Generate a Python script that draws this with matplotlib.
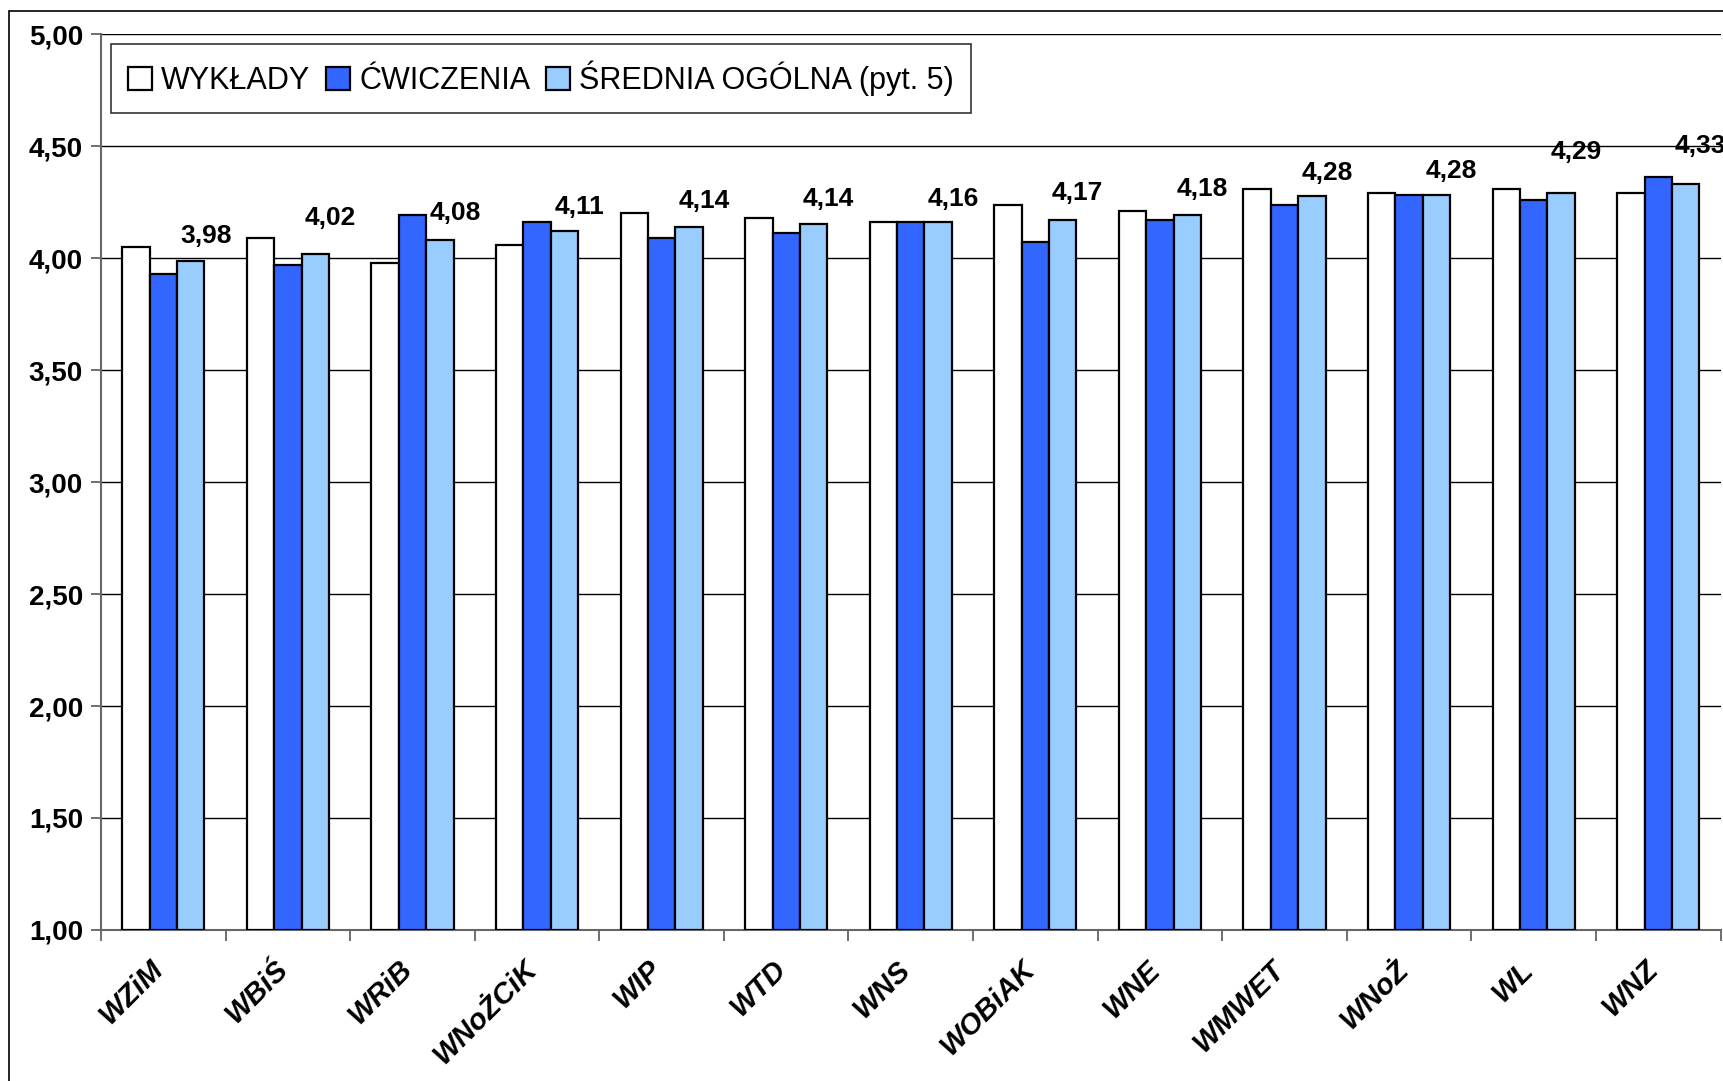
import matplotlib
matplotlib.use("Agg")
import matplotlib.pyplot as plt
import matplotlib.transforms as mtransforms
import numpy as np
from matplotlib.patches import Rectangle
from matplotlib.ticker import FuncFormatter, MultipleLocator

categories = ["WZiM", "WBiŚ", "WRiB", "WNoŻCiK", "WIP", "WTD", "WNS",
              "WOBiAK", "WNE", "WMWET", "WNoŻ", "WL", "WNZ"]
wyklady = [4.05, 4.09, 3.98, 4.06, 4.20, 4.18, 4.16, 4.235, 4.21, 4.31, 4.29, 4.31, 4.29]
cwiczenia = [3.93, 3.97, 4.19, 4.16, 4.09, 4.11, 4.16, 4.07, 4.17, 4.235, 4.28, 4.26, 4.36]
srednia = [3.985, 4.02, 4.08, 4.12, 4.14, 4.15, 4.16, 4.17, 4.19, 4.275, 4.28, 4.29, 4.33]
avg_labels = ["3,98", "4,02", "4,08", "4,11", "4,14", "4,14", "4,16",
              "4,17", "4,18", "4,28", "4,28", "4,29", "4,33"]
label_y = [4.10, 4.18, 4.20, 4.23, 4.255, 4.265, 4.265, 4.29, 4.31, 4.38, 4.39, 4.475, 4.50]
series_names = ["WYKŁADY", "ĆWICZENIA", "ŚREDNIA OGÓLNA (pyt. 5)"]

plt.rcParams['font.family'] = ['Liberation Sans', 'DejaVu Sans']

fig = plt.figure(figsize=(17.24, 10.81), dpi=100)
ax = fig.add_axes([0.0586, 0.1397, 0.9394, 0.8288])

x = np.arange(len(categories))
w = 0.22
cols = ["white", "#3366FF", "#99CCFF"]
for i, (vals, c, name) in enumerate(zip([wyklady, cwiczenia, srednia], cols, series_names)):
    ax.bar(x + (i - 1) * w, np.array(vals) - 1.0, w, bottom=1.0, color=c,
           edgecolor="black", linewidth=1.6, label=name, zorder=3)

for xi, ly, t in zip(x, label_y, avg_labels):
    ax.text(xi + 0.34, ly, t, ha="center", va="center", fontsize=19,
            fontweight="bold", zorder=5)

ax.set_xlim(-0.5, len(categories) - 0.5)
ax.set_ylim(1.0, 5.0)
ax.yaxis.set_major_locator(MultipleLocator(0.5))
ax.yaxis.set_major_formatter(FuncFormatter(lambda v, p: f"{v:.2f}".replace(".", ",")))
ax.grid(axis="y", color="black", linewidth=1.0, zorder=0)
ax.set_axisbelow(True)

ax.set_xticks(x)
ax.set_xticklabels(categories, rotation=45, ha="right", rotation_mode="anchor",
                   fontsize=21, fontweight="bold", fontstyle="italic")
ax.tick_params(axis="x", length=0, pad=18)
offset = mtransforms.ScaledTranslation(-14 / 100, 0, fig.dpi_scale_trans)
for lab in ax.get_xticklabels():
    lab.set_transform(lab.get_transform() + offset)
ax.set_xticks(np.arange(-0.5, len(categories), 1.0), minor=True)
ax.tick_params(axis="x", which="minor", length=8, width=1.2, color="#555555", direction="out")
ax.tick_params(axis="y", length=7, width=1.2, color="#555555", labelsize=20, pad=6)
for lab in ax.get_yticklabels():
    lab.set_fontweight("bold")

for s in ["top", "right"]:
    ax.spines[s].set_visible(False)
ax.spines["left"].set_color("#666666")
ax.spines["left"].set_linewidth(1.5)
ax.spines["bottom"].set_color("#666666")
ax.spines["bottom"].set_linewidth(1.5)

leg = ax.legend(loc="upper left", bbox_to_anchor=(0.006, 0.989), ncol=3,
                fontsize=22, frameon=True, fancybox=False, shadow=False,
                handlelength=0.8, handleheight=0.8, handletextpad=0.3,
                columnspacing=0.5, borderpad=0.55, borderaxespad=0)
leg.get_frame().set_edgecolor("black")
leg.get_frame().set_linewidth(1.2)
leg.set_zorder(10)

fig.patches.append(Rectangle((9 / 1724, -0.1), 1.2, 1 - 11 / 1081 + 0.1,
                             transform=fig.transFigure, fill=False,
                             edgecolor="black", linewidth=1.2))

fig.savefig("out.png", dpi=100)
